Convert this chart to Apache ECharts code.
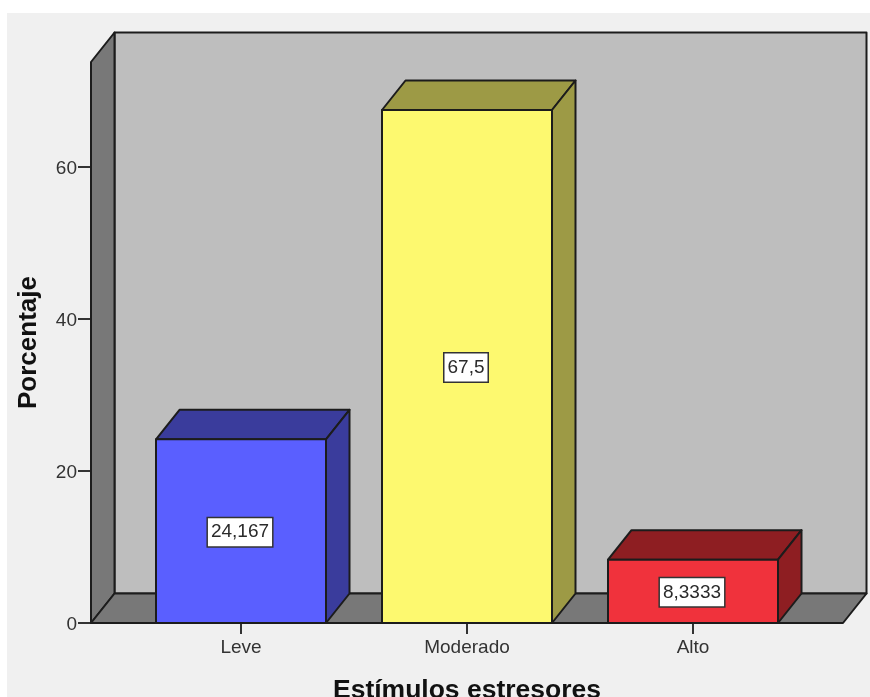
<!DOCTYPE html>
<html>
<head>
<meta charset="utf-8">
<style>html,body{margin:0;padding:0;background:#fff}#chart{width:870px;height:697px}</style>
<script src="https://cdn.jsdelivr.net/npm/echarts@6/dist/echarts.min.js"></script>
</head>
<body>
<div id="chart"></div>
<script>
// Bar values and their printed labels
const categories = ['Leve', 'Moderado', 'Alto'];
const percentages = [24.167, 67.5, 8.3333];
const valueLabels = ['24,167', '67,5', '8,3333'];
const frontColors = ['#5a5fff', '#fdf96f', '#f0323c'];
const shadeColors = ['#3a3c9c', '#9d9a45', '#8e1e22'];
const yTicks = [0, 20, 40, 60];

// Pseudo-3D box depth and frame overhang beyond the category bands, in pixels
const DEPTH_X = 23.5;
const DEPTH_Y = 29.5;
const FRAME_MARGIN = 37;
const BAR_WIDTH = 170;
const EDGE = '#1c1c1c';
const AXIS_TOP = 73.816;

const poly = (points, fill) => ({
  type: 'polygon',
  shape: { points },
  style: { fill, stroke: EDGE, lineWidth: 2, lineJoin: 'round' }
});

function renderFrame(params, api) {
  const c = params.coordSys;
  const x0 = c.x - FRAME_MARGIN;
  const x1 = c.x + c.width + FRAME_MARGIN;
  const yBase = api.coord([0, 0])[1];
  const yTop = api.coord([0, AXIS_TOP])[1];
  const dx = DEPTH_X, dy = DEPTH_Y;
  return {
    type: 'group',
    children: [
      poly([[x0 + dx, yTop - dy], [x1 + dx, yTop - dy], [x1 + dx, yBase - dy], [x0 + dx, yBase - dy]], '#bebebe'),
      poly([[x0, yTop], [x0 + dx, yTop - dy], [x0 + dx, yBase - dy], [x0, yBase]], '#787878'),
      poly([[x0, yBase], [x0 + dx, yBase - dy], [x1 + dx, yBase - dy], [x1, yBase]], '#787878')
    ]
  };
}

function renderBar(params, api) {
  const i = api.value(0);
  const v = api.value(1);
  const top = api.coord([i, v]);
  const base = api.coord([i, 0]);
  const l = top[0] - BAR_WIDTH / 2;
  const r = top[0] + BAR_WIDTH / 2;
  const dx = DEPTH_X, dy = DEPTH_Y;
  return {
    type: 'group',
    children: [
      poly([[l, top[1]], [l + dx, top[1] - dy], [r + dx, top[1] - dy], [r, top[1]]], shadeColors[i]),
      poly([[r, top[1]], [r + dx, top[1] - dy], [r + dx, base[1] - dy], [r, base[1]]], shadeColors[i]),
      poly([[l, top[1]], [r, top[1]], [r, base[1]], [l, base[1]]], frontColors[i]),
      {
        type: 'text',
        x: top[0] - 1,
        y: (top[1] + base[1]) / 2 + 1,
        style: {
          text: valueLabels[i],
          align: 'center',
          verticalAlign: 'middle',
          fontFamily: 'Liberation Sans',
          fontSize: 19,
          fill: '#2a2a2a',
          backgroundColor: '#fff',
          borderColor: '#333',
          borderWidth: 1.5,
          padding: [5, 3, 4, 3]
        }
      }
    ]
  };
}

const chart = echarts.init(document.getElementById('chart'), null, { renderer: 'canvas' });
chart.setOption({
  animation: false,
  backgroundColor: '#fff',
  textStyle: { fontFamily: 'Liberation Sans' },
  graphic: [{
    type: 'rect', z: -10, silent: true,
    shape: { x: 7, y: 13, width: 863, height: 684 },
    style: { fill: '#f0f0f0' }
  }],
  grid: { left: 128, top: 62, width: 678, height: 561, containLabel: false, outerBoundsMode: 'none' },
  xAxis: {
    type: 'category',
    data: categories,
    axisLine: { show: false },
    axisTick: { show: true, alignWithLabel: true, length: 11, lineStyle: { color: '#333', width: 2 } },
    axisLabel: { color: '#333', fontSize: 19, margin: 15 },
    name: 'Estímulos estresores',
    nameLocation: 'middle',
    nameGap: 54,
    nameTextStyle: { color: '#111', fontSize: 26.5, fontWeight: 'bold' },
    splitLine: { show: false }
  },
  yAxis: {
    type: 'value',
    min: 0,
    max: AXIS_TOP,
    interval: 20,
    offset: FRAME_MARGIN,
    axisLine: { show: false },
    axisTick: { show: true, customValues: yTicks, length: 13, lineStyle: { color: '#333', width: 2 } },
    axisLabel: {
      customValues: yTicks,
      margin: 14,
      formatter: '{tick|{value}}',
      rich: { tick: { color: '#333', fontSize: 19, padding: [4, 0, 0, 0] } }
    },
    name: 'Porcentaje',
    nameLocation: 'middle',
    nameGap: 49,
    nameTextStyle: { color: '#111', fontSize: 26, fontWeight: 'bold' },
    splitLine: { show: false }
  },
  series: [
    { type: 'custom', z: 1, clip: false, silent: true, renderItem: renderFrame, data: [[0, 0]] },
    {
      type: 'custom', z: 2, clip: false, silent: true, renderItem: renderBar,
      encode: { x: 0, y: 1 },
      data: percentages.map((v, i) => [i, v])
    }
  ]
});
</script>
</body>
</html>
